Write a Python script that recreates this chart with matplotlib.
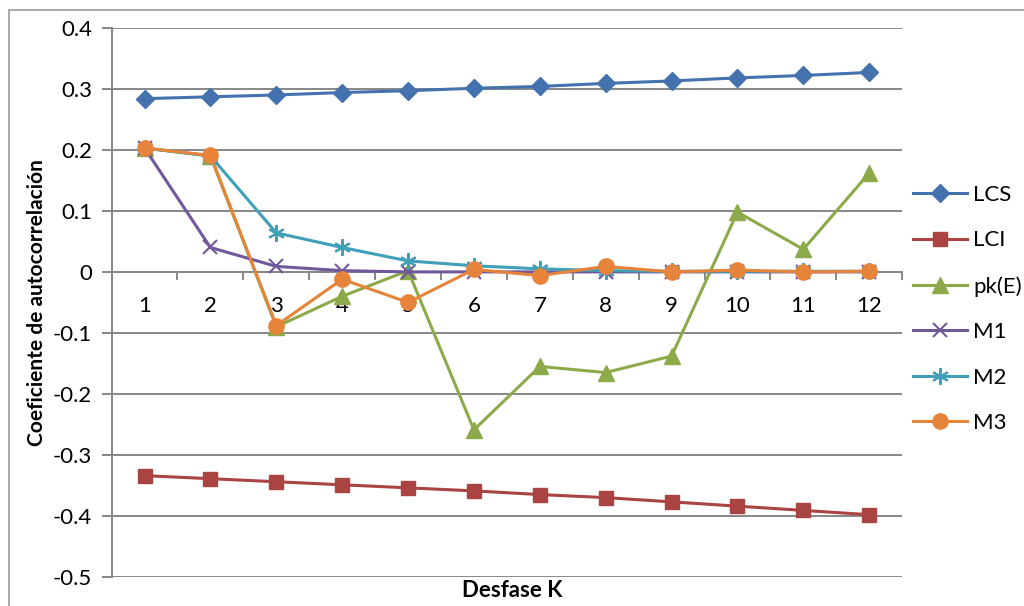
import matplotlib.pyplot as plt
from matplotlib.patches import Rectangle

plt.rcParams['font.family'] = ['Lato', 'DejaVu Sans']

lags = [1, 2, 3, 4, 5, 6, 7, 8, 9, 10, 11, 12]
lcs = [0.284, 0.287, 0.290, 0.294, 0.297, 0.301, 0.304, 0.309, 0.313, 0.318, 0.322, 0.327]
lci = [-0.334, -0.339, -0.344, -0.349, -0.354, -0.359, -0.365, -0.370, -0.377, -0.384, -0.391, -0.398]
pk_e = [0.203, 0.190, -0.090, -0.040, 0.002, -0.259, -0.155, -0.165, -0.138, 0.098, 0.037, 0.162]
m1 = [0.203, 0.040, 0.009, 0.002, 0.000, 0.000, 0.000, 0.000, 0.000, 0.000, 0.000, 0.000]
m2 = [0.203, 0.190, 0.064, 0.040, 0.018, 0.010, 0.005, 0.002, 0.001, 0.001, 0.001, 0.001]
m3 = [0.203, 0.191, -0.088, -0.012, -0.050, 0.004, -0.006, 0.009, 0.000, 0.003, 0.000, 0.001]

y_ticks = [0.4, 0.3, 0.2, 0.1, 0, -0.1, -0.2, -0.3, -0.4, -0.5]
y_labels = ['0.4', '0.3', '0.2', '0.1', '0', '-0.1', '-0.2', '-0.3', '-0.4', '-0.5']

fig = plt.figure(figsize=(10.24, 6.06), dpi=100)
ax = fig.add_axes([0.109, 0.048, 0.772, 0.906])

grid_col = '#878787'
for y in y_ticks:
    ax.axhline(y, color=grid_col, lw=1.4, zorder=1)

# name, values, colour, marker, size, edge width
series = [
    ('LCS', lcs, '#4472AE', 'D', 9, 1.0),
    ('LCI', lci, '#AA4442', 's', 10, 1.0),
    ('pk(E)', pk_e, '#8CAA4A', '^', 11, 1.0),
    ('M1', m1, '#71589A', 'x', 10, 1.5),
    ('M2', m2, '#3FA0B8', (6, 2, 0), 12, 1.5),
    ('M3', m3, '#E5843A', 'o', 11, 1.0),
]
for i, (name, vals, col, mk, ms, mew) in enumerate(series):
    ax.plot(lags, vals, color=col, lw=2.2, marker=mk, ms=ms, mew=mew,
            mec=col, mfc=col, label=name, zorder=3 + i)

ax.set_xlim(0.5, 12.5)
ax.set_ylim(-0.5, 0.4)
ax.set_yticks(y_ticks)
ax.set_yticklabels(y_labels)

ax.spines['bottom'].set_position(('data', 0))
ax.spines['bottom'].set_color(grid_col)
ax.spines['bottom'].set_linewidth(1.4)
ax.spines['left'].set_color(grid_col)
ax.spines['left'].set_linewidth(1.4)
ax.spines['top'].set_visible(False)
ax.spines['right'].set_visible(False)

ax.set_xticks(lags)
ax.set_xticklabels([str(k) for k in lags])
ax.set_xticks([k + 0.5 for k in range(0, 13)], minor=True)
ax.tick_params(axis='x', which='major', length=0, pad=17, labelsize=16)
ax.tick_params(axis='x', which='minor', length=6, width=1.4, color=grid_col, direction='out')
ax.tick_params(axis='y', length=7, width=1.4, color=grid_col, labelsize=16, pad=7)

fig.text(0.036, 0.5, 'Coeficiente de autocorrelación', rotation=90, ha='center',
         va='center', fontsize=15, fontweight='bold')
fig.text(0.5, 0.026, 'Desfase K', ha='center', va='center', fontsize=16, fontweight='bold')

ax.legend(loc='center left', bbox_to_anchor=(1.0, 0.488), frameon=False, fontsize=16,
          handlelength=2.4, labelspacing=1.15, handletextpad=0.3, borderaxespad=0.1)

fig.patches.append(Rectangle((0.009, -0.02), 1.2, 1.004, transform=fig.transFigure,
                             fill=False, edgecolor='#9a9a9a', lw=1.2))

fig.savefig('out.png', dpi=100)
